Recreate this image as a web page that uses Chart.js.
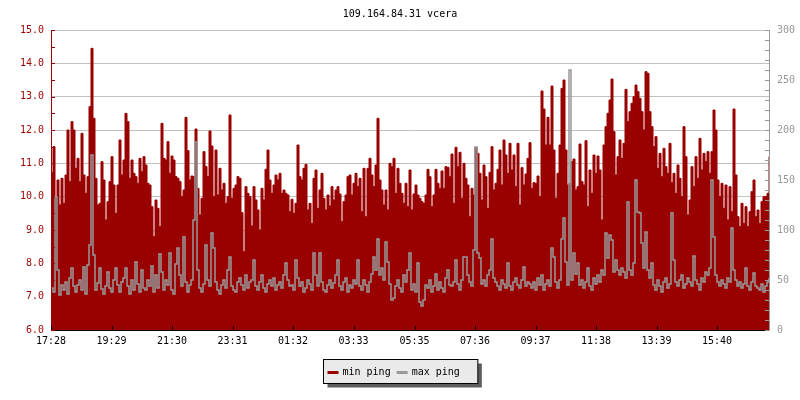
<!DOCTYPE html>
<html>
<head>
<meta charset="utf-8">
<title>109.164.84.31 vcera</title>
<script src="https://cdn.jsdelivr.net/npm/chart.js@4/dist/chart.umd.min.js"></script>
<style>
  html, body { margin: 0; padding: 0; background: #fff; }
  #wrap { width: 800px; height: 400px; }
</style>
</head>
<body>
<div id="wrap"><canvas id="pingChart" width="800" height="400"></canvas></div>
<script>
// one sample every 4 minutes, starting 17:28
const SAMPLE_MIN = 4;

const timeLabels = ["17:28", "19:29", "21:30", "23:31", "01:32", "03:33",
                    "05:35", "07:36", "09:37", "11:38", "13:39", "15:40"];

const minPing = [
  // 17:28 - 21:28
  10.72,11.5,9.95,10.5,9.75,10.55,9.8,10.65,12.0,10.45,12.25,12.0,10.85,11.15,10.45,11.9,10.65,10.1,10.6,12.7,
  14.45,12.35,10.55,9.75,9.8,11.05,10.5,9.3,9.85,10.45,11.2,10.35,9.5,10.35,11.7,10.65,11.1,12.5,12.25,10.55,
  11.1,10.7,10.6,10.4,11.15,10.75,11.2,10.95,10.4,10.35,9.7,8.8,9.9,9.65,9.1,12.2,11.15,11.1,11.65,10.7,
  // 21:28 - 01:28
  11.22,11.1,10.6,10.55,10.45,10.0,10.2,12.38,11.38,10.5,10.62,10.6,12.03,10.25,9.45,9.95,11.35,10.9,10.6,11.97,
  11.52,10.0,11.4,10.05,10.85,10.2,10.4,9.8,10.0,12.45,9.95,10.25,10.35,10.6,10.55,9.52,8.35,10.3,10.1,10.0,
  9.12,10.3,9.9,9.6,9.0,10.25,9.9,10.82,11.4,10.5,10.1,10.35,10.65,10.5,10.7,10.1,10.2,10.1,10.05,9.55,
  // 01:28 - 05:28
  9.92,9.5,9.8,11.55,10.6,10.5,10.85,10.97,9.6,9.8,9.2,10.55,10.8,9.65,10.2,10.7,9.95,9.6,10.05,9.72,
  10.3,9.9,10.2,10.3,10.08,9.25,9.85,10.05,10.6,10.65,10.05,10.4,10.7,10.3,10.55,9.55,10.85,9.4,10.85,11.15,
  10.65,10.3,10.95,12.35,10.5,10.2,9.75,10.2,9.6,11.0,10.9,11.15,10.1,10.85,10.4,10.1,9.8,10.4,9.7,10.8,
  // 05:28 - 09:28
  9.6,10.08,10.35,10.05,9.95,9.85,9.8,10.05,10.82,10.6,9.7,10.05,10.82,10.4,10.25,10.77,10.25,10.9,10.88,10.6,
  11.28,9.8,11.48,10.9,11.33,9.95,11.0,10.55,10.35,9.4,10.25,10.05,11.48,11.3,10.7,9.9,10.95,10.6,9.65,10.73,
  11.5,10.2,10.4,10.82,11.4,10.35,11.7,11.25,10.7,11.6,10.8,11.25,10.3,11.6,9.75,10.87,10.35,10.68,11.15,11.62,
  // 09:28 - 13:28
  10.25,10.42,10.4,10.62,10.0,13.17,12.63,11.55,12.38,11.55,13.32,11.4,9.95,10.7,11.55,13.25,13.5,11.4,10.35,10.4,
  11.05,11.13,10.2,10.3,11.58,10.45,10.35,11.68,9.7,10.8,10.1,11.25,10.7,11.22,10.8,9.3,11.55,12.1,12.5,12.9,
  13.53,11.95,10.65,11.2,11.7,11.15,11.6,13.22,12.25,12.55,12.8,13.0,13.35,13.15,12.95,12.55,12.0,13.75,13.7,12.55,
  // 13:28 - 17:24
  12.1,11.5,11.8,10.85,11.3,10.6,11.45,10.9,10.7,11.6,10.42,10.7,10.1,10.95,10.55,10.0,12.1,11.2,9.45,9.9,
  10.9,10.3,11.2,10.55,11.75,10.8,11.3,11.05,11.35,10.7,11.35,12.6,12.0,10.5,10.0,10.4,9.65,10.35,9.3,10.3,
  9.55,12.63,10.65,9.4,9.1,9.8,9.2,9.7,9.1,9.55,10.15,10.5,9.4,9.6,9.2,9.85,10.0,10.0,10.1,11.2
];

const maxPing = [
  42,38,133,60,35,45,40,48,36,52,62,44,38,45,50,40,63,36,65,85,
  175,75,40,47,62,41,36,44,58,42,38,50,62,45,38,48,52,62,44,36,
  50,40,68,46,38,60,42,40,50,44,64,38,55,42,76,58,40,50,45,77,

  40,36,66,82,55,44,93,48,38,45,50,110,188,60,42,38,46,85,50,44,
  97,82,48,40,36,45,50,42,60,73,44,40,38,48,52,45,40,55,42,48,
  50,70,44,40,48,55,42,38,46,50,44,52,40,45,48,42,55,67,50,44,

  45,40,70,52,44,48,38,42,50,46,40,77,55,44,77,48,40,38,45,50,
  42,47,55,70,44,40,48,52,38,45,42,50,46,70,44,40,50,45,38,48,
  56,73,60,91,55,62,50,88,68,46,30,32,44,50,42,38,55,48,60,77,

  40,46,38,67,28,24,30,45,42,50,38,44,56,40,48,42,38,52,60,45,
  44,48,70,46,40,50,73,73,55,48,44,80,183,77,72,46,50,44,55,60,
  91,52,48,44,40,50,46,42,67,44,40,48,52,45,42,50,63,44,48,46,

  42,48,40,52,45,55,40,46,50,44,82,73,48,42,50,91,112,68,45,260,
  50,77,56,67,45,50,42,48,62,44,40,52,46,55,48,60,55,97,72,95,
  90,58,70,60,55,62,58,52,128,60,55,67,150,118,117,87,62,98,60,52,

  67,45,40,50,44,38,48,52,42,46,117,70,48,44,50,55,42,46,52,48,
  44,74,50,46,40,52,48,58,55,62,150,93,55,48,44,50,46,42,52,48,
  102,60,50,44,48,42,46,62,44,40,48,57,44,42,40,46,38,44,48,52
];

const RED = "#990000";
const GRAY = "#999999";
const MONO = "'DejaVu Sans Mono', 'Liberation Mono', monospace";

function minutesFrom(start, t) {
  const [h0, m0] = start.split(":").map(Number);
  const [h, m] = t.split(":").map(Number);
  return ((h * 60 + m) - (h0 * 60 + m0) + 1440) % 1440;
}
const labelMinutes = timeLabels.map(t => minutesFrom(timeLabels[0], t));
const lastMinute = (minPing.length - 1) * SAMPLE_MIN;

Chart.defaults.font.family = MONO;
Chart.defaults.font.size = 10;
Chart.defaults.color = "#000";

// small inward tick marks like the original graph
const innerTicks = {
  id: "innerTicks",
  afterDraw(chart) {
    const { ctx, chartArea: a, scales } = chart;
    ctx.save();
    ctx.lineWidth = 1;
    ctx.strokeStyle = RED;
    ctx.beginPath();
    for (let v = 6; v <= 15; v += 0.5) {
      const y = Math.round(scales.y.getPixelForValue(v)) + 0.5;
      ctx.moveTo(a.left, y); ctx.lineTo(a.left + 4, y);
    }
    ctx.stroke();
    ctx.strokeStyle = GRAY;
    ctx.beginPath();
    for (let v = 0; v <= 300; v += 10) {
      const y = Math.round(scales.y1.getPixelForValue(v)) + 0.5;
      ctx.moveTo(a.right - 4, y); ctx.lineTo(a.right, y);
    }
    ctx.stroke();
    ctx.strokeStyle = "#000";
    ctx.beginPath();
    labelMinutes.forEach(m => {
      const x = Math.round(scales.x.getPixelForValue(m)) + 0.5;
      ctx.moveTo(x, a.bottom); ctx.lineTo(x, a.bottom - 4);
    });
    ctx.stroke();
    ctx.restore();
  }
};

// boxed legend with drop shadow under the x axis
const boxLegend = {
  id: "boxLegend",
  afterDraw(chart) {
    const { ctx } = chart;
    const sets = chart.data.datasets;
    ctx.save();
    ctx.font = "10px " + MONO;
    let w = 4;
    sets.forEach((ds, i) => { w += 15 + ctx.measureText(ds.label).width + (i < sets.length - 1 ? 6 : 18); });
    const bx = Math.round(chart.width / 2 - w / 2) + 0.5, by = 359.5, bh = 24;
    ctx.fillStyle = "#5e5e5e";
    ctx.fillRect(bx + 4, by + 4, w, bh);
    ctx.fillStyle = "#eaeaea";
    ctx.fillRect(bx, by, w, bh);
    ctx.strokeStyle = "#000";
    ctx.lineWidth = 1;
    ctx.strokeRect(bx, by, w, bh);
    let x = bx + 4;
    ctx.textBaseline = "middle";
    sets.forEach(ds => {
      ctx.fillStyle = ds.legendColor;
      ctx.fillRect(x, by + 11.5, 11, 3);
      ctx.fillStyle = "#000";
      ctx.fillText(ds.label, x + 15, by + 12.5);
      x += 15 + ctx.measureText(ds.label).width + 6;
    });
    ctx.restore();
  }
};

new Chart(document.getElementById("pingChart"), {
  type: "line",
  data: {
    datasets: [
      {
        label: "min ping",
        data: minPing.map((v, i) => ({ x: i * SAMPLE_MIN, y: v })),
        yAxisID: "y",
        stepped: true,
        fill: "start",
        backgroundColor: RED,
        borderColor: RED,
        legendColor: RED,
        borderWidth: 1,
        pointRadius: 0,
        order: 2
      },
      {
        label: "max ping",
        data: maxPing.map((v, i) => ({ x: i * SAMPLE_MIN, y: v })),
        yAxisID: "y1",
        stepped: true,
        fill: false,
        borderColor: GRAY,
        legendColor: GRAY,
        borderWidth: 1.5,
        pointRadius: 0,
        order: 1
      }
    ]
  },
  options: {
    responsive: false,
    animation: false,
    events: [],
    layout: { padding: { left: 0, right: 0, top: 0, bottom: 50 } },
    plugins: {
      legend: { display: false },
      tooltip: { enabled: false },
      title: {
        display: true,
        text: "109.164.84.31 vcera",
        color: "#000",
        font: { family: MONO, size: 10, weight: "normal" },
        padding: { top: 8, bottom: 10 }
      }
    },
    scales: {
      x: {
        type: "linear",
        min: 0,
        max: lastMinute,
        afterBuildTicks: s => { s.ticks = labelMinutes.map(v => ({ value: v })); },
        afterFit: s => { s.height = 20; },
        ticks: {
          autoSkip: false,
          maxRotation: 0,
          padding: 5,
          color: "#000",
          callback: (v, i) => timeLabels[i]
        },
        grid: { drawOnChartArea: false, drawTicks: false },
        border: { color: "#000", z: 1 }
      },
      y: {
        position: "left",
        min: 6,
        max: 15,
        afterFit: s => { s.width = 51; },
        ticks: { stepSize: 1, padding: 7, color: RED, callback: v => v.toFixed(1) },
        grid: { color: "#c0c0c0", drawTicks: false },
        border: { color: RED, z: 1 }
      },
      y1: {
        position: "right",
        min: 0,
        max: 300,
        afterFit: s => { s.width = 31; },
        ticks: { stepSize: 50, padding: 8, color: GRAY },
        grid: { drawOnChartArea: false, drawTicks: false },
        border: { color: GRAY, z: 1 }
      }
    }
  },
  plugins: [innerTicks, boxLegend]
});
</script>
</body>
</html>
